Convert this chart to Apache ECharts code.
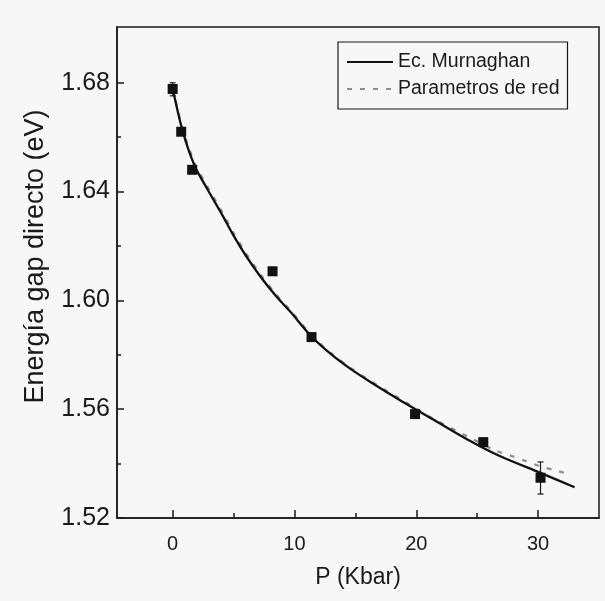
<!DOCTYPE html>
<html>
<head>
<meta charset="utf-8">
<script src="https://cdn.jsdelivr.net/npm/echarts@6/dist/echarts.min.js"></script>
<style>
html,body{margin:0;padding:0;background:#f7f7f7;}
#c{width:605px;height:601px;}
</style>
</head>
<body>
<div id="c"></div>
<script>
// Measured data points (squares)
const pointP = [0, 0.7, 1.6, 8.2, 11.4, 19.9, 25.5, 30.2];
const pointE = [1.6777, 1.662, 1.648, 1.6107, 1.5865, 1.5582, 1.5479, 1.5348];
// Error bars
const errP = [0, 30.2];
const errLow = [1.6752, 1.5288];
const errHigh = [1.6800, 1.5406];
// Ec. Murnaghan curve (solid)
const murP = [0, 0.8, 1.8, 2.9, 4, 5, 6, 7.2, 8.5, 9.7, 11.3, 13, 14.6, 16.3, 18.7, 21.4, 24.2, 26.9, 30.2, 33];
const murE = [1.678, 1.6626, 1.6495, 1.6405, 1.632, 1.6238, 1.6165, 1.6088, 1.6015, 1.5956, 1.5872, 1.5802, 1.5748, 1.5698, 1.5632, 1.5562, 1.5489, 1.5427, 1.5366, 1.5313];
// Parametros de red curve (dashed)
const redP = [0, 0.8, 1.8, 2.9, 4, 5, 6, 7.2, 8.5, 9.7, 11.3, 13, 14.6, 16.3, 18.7, 21.4, 24.2, 26.6, 27.9, 29, 30.2, 31.4, 32.7];
const redE = [1.678, 1.6635, 1.6505, 1.6415, 1.633, 1.6248, 1.6175, 1.6096, 1.6022, 1.5962, 1.5877, 1.5806, 1.5752, 1.5702, 1.5637, 1.5565, 1.5500, 1.5446, 1.5427, 1.5409, 1.5390, 1.5375, 1.5360];
// Tick labels
const xMajor = [0, 10, 20, 30];
const xMinor = [5, 15, 25];
const yMajor = [1.52, 1.56, 1.60, 1.64, 1.68];
const yMinor = [1.54, 1.58, 1.62, 1.66];

const zip = (a, b) => a.map((v, i) => [v, b[i]]);
const FONT = '"Liberation Sans", Arial, sans-serif';
const XMIN = -4.57, XMAX = 35, YMIN = 1.52, YMAX = 1.7005;
const INK = '#1a1a1a';

const chart = echarts.init(document.getElementById('c'), null, {renderer: 'canvas'});
chart.setOption({
  backgroundColor: '#f7f7f7',
  animation: false,
  grid: {left: 117, right: 6, top: 27, bottom: 83, show: true, borderColor: INK, borderWidth: 1.5, backgroundColor: 'transparent'},
  legend: {
    data: ['Ec. Murnaghan', 'Parametros de red'],
    orient: 'vertical', left: 338, top: 42,
    padding: [10, 8, 10, 8], itemGap: 7, itemWidth: 46, itemHeight: 18,
    borderColor: INK, borderWidth: 1.2, backgroundColor: '#f7f7f7',
    itemStyle: {opacity: 0, borderWidth: 0},
    textStyle: {fontFamily: FONT, fontSize: 19.5, color: INK}
  },
  xAxis: [{
    type: 'value', min: XMIN, max: XMAX, position: 'bottom',
    name: 'P (Kbar)', nameLocation: 'middle', nameGap: 48,
    nameTextStyle: {fontFamily: FONT, fontSize: 23, color: INK},
    axisLine: {show: true, onZero: false, lineStyle: {color: INK, width: 1.5}},
    axisTick: {show: true, inside: true, length: 8, customValues: xMajor, lineStyle: {color: INK, width: 1.5}},
    axisLabel: {customValues: xMajor, fontFamily: FONT, fontSize: 20, color: INK, margin: 16},
    splitLine: {show: false}
  }, {
    type: 'value', min: XMIN, max: XMAX, position: 'bottom',
    axisLine: {show: false, onZero: false},
    axisTick: {show: true, inside: true, length: 5, customValues: xMinor, lineStyle: {color: INK, width: 1.5}},
    axisLabel: {show: false},
    splitLine: {show: false}
  }],
  yAxis: [{
    type: 'value', min: YMIN, max: YMAX, position: 'left',
    name: 'Energía gap directo (eV)', nameLocation: 'middle', nameGap: 68, nameRotate: 90,
    nameTextStyle: {fontFamily: FONT, fontSize: 27, color: INK, padding: [0, 0, 0, 32]},
    axisLine: {show: true, onZero: false, lineStyle: {color: INK, width: 1.5}},
    axisTick: {show: true, inside: true, length: 7, customValues: yMajor, lineStyle: {color: INK, width: 1.5}},
    axisLabel: {customValues: yMajor, formatter: v => v.toFixed(2), fontFamily: FONT, fontSize: 25, color: INK, margin: 7},
    splitLine: {show: false}
  }, {
    type: 'value', min: YMIN, max: YMAX, position: 'left',
    axisLine: {show: false, onZero: false},
    axisTick: {show: true, inside: true, length: 4, customValues: yMinor, lineStyle: {color: INK, width: 1.5}},
    axisLabel: {show: false},
    splitLine: {show: false}
  }],
  series: [{
    name: 'Parametros de red', type: 'line', smooth: 0.3, symbol: 'none',
    data: zip(redP, redE), z: 2,
    lineStyle: {color: '#8e8e8e', width: 2.2, type: [5, 8]},
    itemStyle: {color: '#8e8e8e'}
  }, {
    name: 'Ec. Murnaghan', type: 'line', smooth: 0.3, symbol: 'none',
    data: zip(murP, murE), z: 3,
    lineStyle: {color: '#111', width: 2.3},
    itemStyle: {color: '#111'}
  }, {
    name: 'err', type: 'custom', z: 4,
    data: errP.map((p, i) => [p, errLow[i], errHigh[i]]),
    renderItem: function (params, api) {
      const lo = api.coord([api.value(0), api.value(1)]);
      const hi = api.coord([api.value(0), api.value(2)]);
      const w = 3;
      const st = {stroke: INK, lineWidth: 1.2};
      return {type: 'group', children: [
        {type: 'line', shape: {x1: lo[0], y1: lo[1], x2: hi[0], y2: hi[1]}, style: st},
        {type: 'line', shape: {x1: lo[0] - w, y1: lo[1], x2: lo[0] + w, y2: lo[1]}, style: st},
        {type: 'line', shape: {x1: hi[0] - w, y1: hi[1], x2: hi[0] + w, y2: hi[1]}, style: st}
      ]};
    }
  }, {
    name: 'datos', type: 'scatter', symbol: 'rect', symbolSize: 10, z: 5,
    data: zip(pointP, pointE),
    itemStyle: {color: '#111', opacity: 1}
  }]
});
</script>
</body>
</html>
